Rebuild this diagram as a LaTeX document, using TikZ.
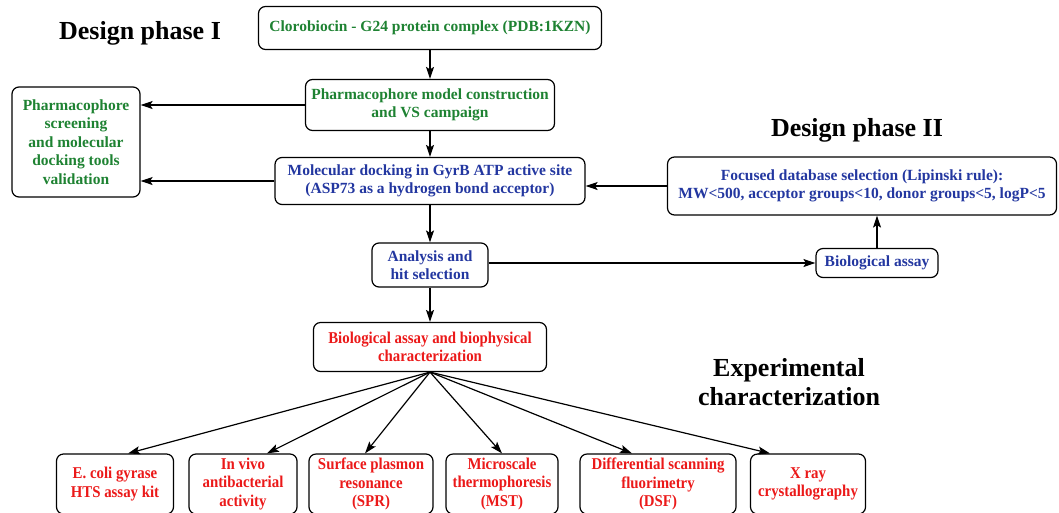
\documentclass[tikz,border=0pt]{standalone}
\usepackage{fontspec}
\setmainfont{Liberation Serif}
\newfontfamily\narrowserif[FakeStretch=0.9]{Liberation Serif}
\usetikzlibrary{arrows.meta, positioning}
\definecolor{stepgreen}{RGB}{30,130,50}
\definecolor{stepblue}{RGB}{35,55,160}
\definecolor{stepred}{RGB}{235,25,25}

\begin{document}
\begin{tikzpicture}[x=1pt, y=-1pt,
    box/.style={rectangle, draw, line width=1.2pt, rounded corners=7pt, align=center, inner sep=1pt, font=\fontsize{15.5}{18.5}\selectfont\bfseries},
    greenbox/.style={box, text=stepgreen},
    bluebox/.style={box, text=stepblue},
    redbox/.style={box, text=stepred, minimum height=60pt, font=\narrowserif\fontsize{16.5}{18.5}\selectfont\bfseries},
    phase/.style={align=center, font=\fontsize{26}{29.5}\selectfont\bfseries},
    arrow/.style={line width=1.2pt, -{Stealth[length=12pt, width=8pt, inset=2.5pt]}}]

    \useasboundingbox (0,0) rectangle (1059,512);

    % phase titles
    \node[phase] (phaseI) at (140,33) {Design phase I};
    \node[phase] (phaseII) at (857,130) {Design phase II};
    \node[phase] (phaseIII) at (789,382) {Experimental\\characterization};

    % design phase I
    \node[greenbox, minimum width=343pt, minimum height=43pt] (complex) at (430,28) {Clorobiocin - G24 protein complex (PDB:1KZN)};
    \node[greenbox, minimum width=249pt, minimum height=51pt] (pharm) at (430,105) {Pharmacophore model construction\\and VS campaign};
    \node[greenbox, minimum width=128pt, minimum height=110pt] (valid) at (76,142) {Pharmacophore\\screening\\and molecular\\docking tools\\validation};
    \node[bluebox, minimum width=310pt, minimum height=47pt] (docking) at (430,181) {Molecular docking in GyrB ATP active site\\(ASP73 as a hydrogen bond acceptor)};
    \node[bluebox, minimum width=116pt, minimum height=44pt] (hits) at (430,265) {Analysis and\\hit selection};

    % design phase II
    \node[bluebox, minimum width=389pt, minimum height=58pt] (lipinski) at (862,186) {Focused database selection (Lipinski rule):\\MW<500, acceptor groups<10, donor groups<5, logP<5};
    \node[bluebox, minimum width=122pt, minimum height=29pt] (bioassay) at (877,263) {Biological assay};

    % experimental characterization
    \node[redbox, minimum width=233pt, minimum height=49pt] (biophys) at (430,347) {Biological assay and biophysical\\characterization};
    \node[redbox, minimum width=117pt] (gyrase) at (115,484) {E. coli gyrase\\HTS assay kit};
    \node[redbox, minimum width=108pt] (invivo) at (243,484) {In vivo\\antibacterial\\activity};
    \node[redbox, minimum width=124pt] (spr) at (371,484) {Surface plasmon\\resonance\\(SPR)};
    \node[redbox, minimum width=112pt] (mst) at (502,484) {Microscale\\thermophoresis\\(MST)};
    \node[redbox, minimum width=156pt] (dsf) at (658,484) {Differential scanning\\fluorimetry\\(DSF)};
    \node[redbox, minimum width=115pt] (xray) at (808,484) {X ray\\crystallography};

    \draw[arrow] (complex) -- (pharm);
    \draw[arrow] (pharm) -- (docking);
    \draw[arrow] (pharm.west) -- (pharm.west -| valid.east);
    \draw[arrow] (docking.west) -- (docking.west -| valid.east);
    \draw[arrow] (lipinski.west) -- (lipinski.west -| docking.east);
    \draw[arrow] (docking) -- (hits);
    \draw[arrow] (bioassay.west -| hits.east) -- (bioassay.west);
    \draw[arrow] (bioassay.north) -- (bioassay.north |- lipinski.south);
    \draw[arrow] (hits) -- (biophys);
    \draw[arrow] (biophys.south) -- ([xshift=13pt]gyrase.north);
    \draw[arrow] (biophys.south) -- ([xshift=24pt]invivo.north);
    \draw[arrow] (biophys.south) -- ([xshift=-6pt]spr.north);
    \draw[arrow] (biophys.south) -- (mst.north);
    \draw[arrow] (biophys.south) -- ([xshift=-26pt]dsf.north);
    \draw[arrow] (biophys.south) -- ([xshift=-38pt]xray.north);
\end{tikzpicture}
\end{document}
